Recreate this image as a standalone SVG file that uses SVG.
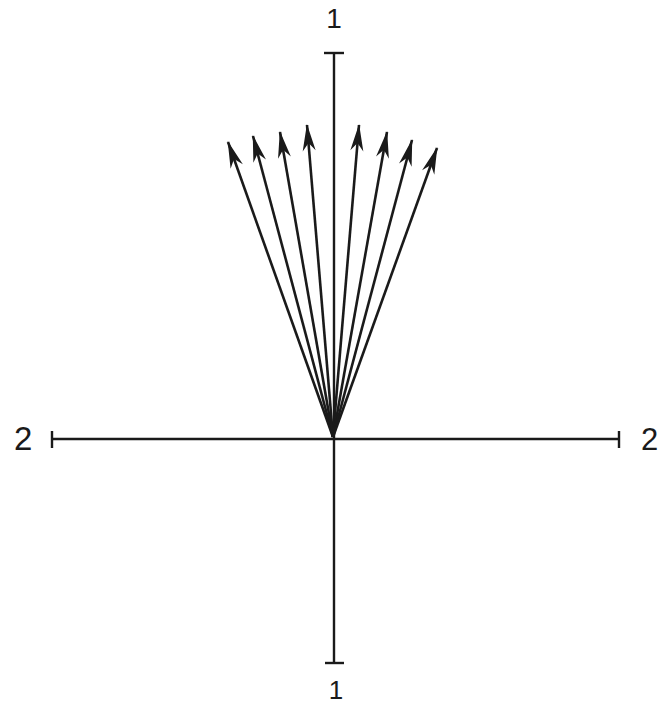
<svg xmlns="http://www.w3.org/2000/svg" width="660" height="705" viewBox="0 0 660 705">
<style>
.ax{stroke:#1a1a1a;stroke-width:2.4;fill:none}
.vec{stroke:#1a1a1a;stroke-width:2.6;fill:none;marker-end:url(#ah)}
.lbl{font-family:"Liberation Sans",Arial,sans-serif;fill:#1a1a1a}
</style>
<defs>
<marker id="ah" markerUnits="userSpaceOnUse" viewBox="-30 -8 32 16" refX="0" refY="0" markerWidth="32" markerHeight="16" orient="auto" overflow="visible">
<path d="M1,0 L-26,-6.5 L-18,0 L-26,6.5 Z" fill="#1a1a1a"/>
</marker>
</defs>
<rect width="660" height="705" fill="#ffffff"/>
<g id="axes">
<g id="axis1">
<line class="ax" x1="334" y1="53" x2="334" y2="663"/>
<line class="ax" x1="324" y1="53" x2="344" y2="53"/>
<line class="ax" x1="325" y1="663" x2="344" y2="663"/>
</g>
<g id="axis2">
<line class="ax" x1="52" y1="439" x2="619" y2="439"/>
<line class="ax" x1="52" y1="431" x2="52" y2="448"/>
<line class="ax" x1="619" y1="431" x2="619" y2="448"/>
</g>
</g>
<g id="labels">
<text class="lbl" x="334" y="28" font-size="28" text-anchor="middle">1</text>
<text class="lbl" x="336" y="699" font-size="26" text-anchor="middle">1</text>
<text class="lbl" x="14" y="450" font-size="33">2</text>
<text class="lbl" x="641" y="450" font-size="31">2</text>
</g>
<g id="connectors">
<line class="vec" x1="333" y1="437" x2="228" y2="142"/>
<line class="vec" x1="333" y1="437" x2="253" y2="136"/>
<line class="vec" x1="333" y1="437" x2="280" y2="132"/>
<line class="vec" x1="333" y1="437" x2="307" y2="125"/>
<line class="vec" x1="333" y1="437" x2="359" y2="125"/>
<line class="vec" x1="333" y1="437" x2="387" y2="132"/>
<line class="vec" x1="333" y1="437" x2="412" y2="140"/>
<line class="vec" x1="333" y1="437" x2="437" y2="148"/>
</g>
</svg>
